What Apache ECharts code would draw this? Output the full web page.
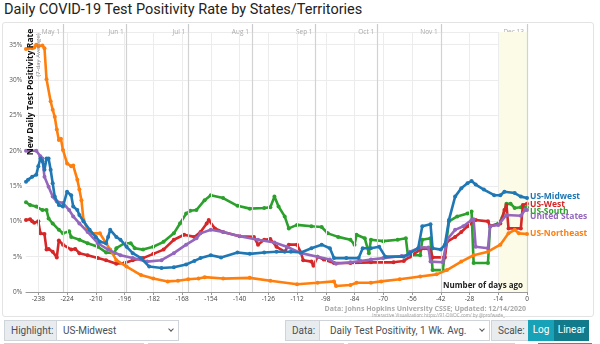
<!DOCTYPE html>
<html><head><meta charset="utf-8">
<script src="https://cdn.jsdelivr.net/npm/echarts@6/dist/echarts.min.js"></script>
<style>
html,body{margin:0;padding:0;background:#fff;width:600px;height:344px;overflow:hidden;font-family:Roboto,sans-serif;}
#title{position:absolute;left:4px;top:1px;font-size:14.5px;color:#222;white-space:nowrap;}
#frame{position:absolute;left:2px;top:22px;width:592px;height:295px;border:1px solid #e3e3e3;border-radius:3px;box-sizing:border-box;}
#chart{position:absolute;left:0;top:0;width:600px;height:320px;}
.box{position:absolute;top:320px;height:21px;box-sizing:border-box;border:1px solid #ced4da;font-size:10px;line-height:19px;color:#495057;white-space:nowrap;}
.lab{background:#e9ecef;padding-left:6px;}
.sel{background:#fff;padding-left:6px;}
.chev{position:absolute;top:6px;width:3px;height:3px;border-right:1.2px solid #555;border-bottom:1.2px solid #555;transform:rotate(45deg);}
.btn{color:#fff;text-align:center;border:none;}
.row2{position:absolute;top:343px;height:10px;border:1px solid #ced4da;box-sizing:border-box;}
</style>
</head><body>
<div id="title">Daily COVID-19 Test Positivity Rate by States/Territories</div>
<div id="frame"></div>
<div id="chart"></div>
<div class="box lab" style="left:4px;width:53px;">Highlight:</div>
<div class="box sel" style="left:56px;width:123px;">US-Midwest<span class="chev" style="left:112px;"></span></div>
<div class="box lab" style="left:285px;width:35px;">Data:</div>
<div class="box sel" style="left:319px;width:171px;padding-left:10px;">Daily Test Positivity, 1 Wk. Avg.<span class="chev" style="left:160px;"></span></div>
<div class="box lab" style="left:491px;width:38px;">Scale:</div>
<div class="box btn" style="left:528px;width:26px;background:#17a2b8;">Log</div>
<div class="box btn" style="left:554px;width:35px;background:#117a8b;">Linear</div>
<div class="row2" style="left:4px;width:140px;"></div>
<div class="row2" style="left:148px;width:196px;"></div>
<div class="row2" style="left:348px;width:167px;"></div>
<div class="row2" style="left:538px;width:54px;background:#17a2b8;border-color:#17a2b8;"></div>
<script>
// ---- data ----
const tickDays = [-238,-224,-210,-196,-182,-168,-154,-140,-126,-112,-98,-84,-70,-56,-42,-28,-14,0];
const monthDays = [-226,-195,-165,-134,-103,-73,-42,0];
const monthLabels = ['May 1','Jun 1','Jul 1','Aug 1','Sep 1','Oct 1','Nov 1','Dec 13'];
const seriesNames = ['US-Midwest','US-West','US-South','United States','US-Northeast'];

const midwest = [[-244,15.6],[-243,15.9],[-241,16.3],[-239,16.6],[-238,17.8],[-237,18.9],[-236,18.5],[-235,17.3],[-234,18.9],[-233,18.9],[-232,17.3],[-231,15.4],[-230,13.5],[-228,12.3],[-226,12.1],[-224,14.2],[-222,13.7],[-221,12.1],[-219,11.6],[-218,10.9],[-216,10.0],[-213,8.8],[-210,7.8],[-208,7.1],[-205,6.9],[-204,7.8],[-203,8.8],[-200,7.8],[-198,7.4],[-195,6.4],[-192,5.5],[-188,4.8],[-184,3.6],[-178,3.4],[-172,3.5],[-166,3.9],[-162,4.4],[-159,4.8],[-154,5.2],[-149,4.9],[-141,5.6],[-135,5.4],[-128,5.6],[-122,5.7],[-115,5.7],[-110,5.6],[-105,6.2],[-100,6.7],[-96,6.2],[-94,4.8],[-88,4.8],[-82,4.8],[-80,6.2],[-76,6.2],[-72,6.4],[-69,5.0],[-60,5.0],[-57,5.5],[-53,6.2],[-51,9.3],[-47,9.6],[-46,6.2],[-42,6.0],[-40,6.7],[-38,10.2],[-35,13.5],[-32,14.7],[-29,15.4],[-27,15.7],[-25,15.2],[-21,14.5],[-16,13.7],[-13,13.7],[-11,14.2],[-6,14.0],[-3,13.5],[0,13.3]];

const west = [[-244,10.2],[-242,10.3],[-241,10.0],[-240,9.8],[-238,10.0],[-237,8.3],[-235,8.2],[-234,6.0],[-233,6.1],[-231,5.7],[-229,4.9],[-228,7.3],[-226,6.7],[-222,6.0],[-220,6.1],[-218,5.5],[-214,5.2],[-209,4.8],[-205,4.5],[-200,4.0],[-196,4.1],[-192,4.5],[-187,4.8],[-182,5.4],[-177,6.0],[-172,7.4],[-167,8.1],[-162,7.8],[-159,8.5],[-156,9.7],[-155,10.2],[-152,9.0],[-148,8.5],[-140,7.9],[-133,7.8],[-131,6.7],[-128,7.4],[-125,7.5],[-122,6.4],[-118,5.7],[-116,6.7],[-112,6.7],[-110,5.5],[-109,4.5],[-105,4.3],[-104,3.7],[-102,5.0],[-99,4.6],[-94,4.1],[-86,4.1],[-76,4.2],[-65,4.2],[-60,4.4],[-57,5.0],[-52,6.0],[-50,6.2],[-47,6.0],[-46,4.9],[-40,4.9],[-39,7.1],[-35,7.8],[-32,8.5],[-29,9.3],[-25,10.2],[-19,10.0],[-18,9.3],[-13,9.7],[-11,11.6],[-10,12.3],[-9,9.0],[-3,9.0],[-2,12.3],[0,12.5]];

const south = [[-244,12.7],[-242,12.3],[-239,12.1],[-236,11.6],[-234,11.6],[-233,10.4],[-231,9.7],[-228,8.8],[-226,8.3],[-223,8.6],[-222,7.8],[-218,7.4],[-214,6.9],[-209,6.4],[-205,5.6],[-201,5.5],[-200,6.2],[-196,6.9],[-193,6.9],[-191,6.2],[-187,6.0],[-182,6.4],[-177,7.1],[-172,8.3],[-169,9.7],[-166,11.1],[-164,11.5],[-161,11.6],[-157,13.0],[-154,13.7],[-148,13.3],[-141,12.2],[-135,11.8],[-128,11.9],[-125,12.0],[-123,13.5],[-121,12.1],[-118,10.7],[-116,9.0],[-112,9.5],[-105,9.3],[-100,9.2],[-97,8.3],[-92,7.8],[-86,7.4],[-84,6.7],[-83,8.1],[-79,7.6],[-77,5.5],[-76,7.4],[-70,7.2],[-63,7.4],[-59,7.6],[-58,5.2],[-52,5.2],[-51,7.4],[-47,7.6],[-46,3.1],[-41,3.1],[-38,10.0],[-34,10.7],[-29,11.1],[-27,11.4],[-26,4.1],[-19,4.1],[-18,9.3],[-14,9.7],[-12,10.5],[-10,12.5],[-8,12.5],[-6,11.9],[-3,12.0],[0,12.0]];

const unitedStates = [[-244,20.0],[-239,20.0],[-237,19.2],[-236,18.9],[-235,16.3],[-233,14.9],[-231,13.5],[-229,12.8],[-226,12.6],[-223,11.6],[-221,10.7],[-218,9.7],[-214,8.5],[-209,6.9],[-204,6.0],[-198,5.2],[-192,4.8],[-185,4.3],[-178,4.5],[-172,5.5],[-166,6.7],[-161,7.6],[-159,8.3],[-154,8.8],[-148,8.5],[-140,7.9],[-131,7.4],[-123,7.0],[-117,6.4],[-110,5.5],[-102,5.0],[-96,4.6],[-93,4.0],[-86,4.2],[-81,4.4],[-76,4.6],[-70,4.8],[-61,5.1],[-58,5.2],[-57,5.7],[-52,6.3],[-48,6.3],[-47,4.3],[-41,4.2],[-39,7.4],[-35,8.8],[-31,9.3],[-27,10.2],[-26,10.3],[-25,6.4],[-19,6.2],[-18,9.3],[-14,9.5],[-10,10.9],[-3,10.8],[-1,11.6],[0,11.6]];

const northeast = [[-244,34.4],[-241,34.5],[-240,34.6],[-239,35.0],[-238,34.8],[-236,34.9],[-235,34.5],[-234,30.1],[-232,27.0],[-231,25.8],[-230,24.8],[-229,23.0],[-228,21.5],[-227,21.7],[-226,20.1],[-224,18.2],[-222,17.8],[-221,17.9],[-219,15.9],[-218,14.5],[-217,13.0],[-216,10.2],[-214,8.8],[-212,8.3],[-208,8.3],[-205,6.9],[-203,6.0],[-200,4.5],[-195,3.6],[-188,2.4],[-182,1.9],[-175,1.5],[-170,1.6],[-165,1.8],[-160,1.9],[-157,2.1],[-148,1.9],[-135,2.0],[-125,1.6],[-112,1.1],[-102,1.3],[-94,1.5],[-93,0.85],[-86,1.0],[-83,1.3],[-76,1.3],[-71,1.5],[-62,1.8],[-52,2.2],[-44,2.5],[-39,3.1],[-32,4.3],[-26,5.2],[-19,5.7],[-13,6.7],[-9,8.3],[-6,8.8],[-4,8.3],[0,8.2]];

// ---- chart ----
const chart = echarts.init(document.getElementById('chart'), null, {renderer:'canvas'});
const FONT = 'Open Sans';
function mk(name, data, color, z, off){
  return {
    name, type:'line', data, z, symbol:'circle', symbolSize:4, showSymbol:true,
    lineStyle:{width:2.6,color}, itemStyle:{color},
    endLabel:{show:true, formatter:name, color, fontWeight:'bold', fontSize:8.5, fontFamily:FONT, distance:3, offset:off},
    emphasis:{disabled:true}, animation:false
  };
}
const option = {
  animation:false,
  grid:{left:26, right:73, top:32, bottom:28},
  xAxis:[{
    type:'value', min:-244, max:0,
    axisLine:{show:true, lineStyle:{color:'#999'}},
    axisTick:{show:true, customValues:tickDays, length:3, lineStyle:{color:'#999'}},
    axisLabel:{customValues:tickDays, fontSize:6.5, color:'#444', fontFamily:FONT, margin:4},
    splitLine:{show:false}
  },{
    type:'value', min:-244, max:0, position:'top',
    axisLine:{show:false},
    axisTick:{show:true, customValues:monthDays, length:8, lineStyle:{color:'#ccc', width:1.2}},
    axisLabel:{customValues:monthDays, formatter:v=>monthLabels[monthDays.indexOf(v)], align:'right', padding:[0,3,0,0], fontSize:6.5, color:'#aaa', fontFamily:FONT, margin:-4},
    splitLine:{show:false}
  }],
  yAxis:{
    type:'value', min:0, max:36.8, interval:5,
    axisLine:{show:true, lineStyle:{color:'#999'}},
    axisTick:{show:true, length:3, lineStyle:{color:'#999'}},
    axisLabel:{formatter:'{value}%', fontSize:6.5, color:'#555', fontFamily:FONT, showMaxLabel:false, margin:4},
    splitLine:{show:true, lineStyle:{color:'#ececec'}}
  },
  graphic:[
    {type:'text', x:31, y:92, rotation:Math.PI/2, style:{text:'New Daily Test Positivity Rate', font:'bold 8.5px "Open Sans"', fill:'#111', align:'center', verticalAlign:'middle'}, z:100},
    {type:'text', x:38, y:55, rotation:Math.PI/2, style:{text:'(7-day Average)', font:'6px "Open Sans"', fill:'#888', align:'center', verticalAlign:'middle'}, z:100},
    {type:'text', x:523, y:286, style:{text:'Number of days ago', font:'bold 8px "Open Sans"', fill:'#222', align:'right', verticalAlign:'middle'}, z:100},
    {type:'text', x:526, y:309, style:{text:'Data: Johns Hopkins University CSSE; Updated: 12/14/2020', font:'bold 7px "Open Sans"', fill:'#aaa', align:'right', verticalAlign:'middle'}, z:100},
    {type:'text', x:505, y:315.5, style:{text:'Interactive Visualization: https://91-DIVOC.com/ by @profwade_', font:'4.5px "Open Sans"', fill:'#999', align:'right', verticalAlign:'middle'}, z:100}
  ],
  series:[
    {type:'line', data:[], z:1, silent:true, animation:false,
      markArea:{silent:true, itemStyle:{color:'#fbfbe8'}, data:[[{xAxis:-14},{xAxis:0}]]},
      markLine:{silent:true, symbol:'none', label:{show:false}, animation:false,
        data: tickDays.map(d=>({xAxis:d, lineStyle:{color:'#ececec', width:1, type:'solid'}}))
          .concat(monthDays.map(d=>({xAxis:d, lineStyle:{color:'#d2d2d2', width:1.2, type:'solid'}})))}
    },
    mk(seriesNames[2], south, '#2ca02c', 3, [0,4]),
    mk(seriesNames[1], west, '#d62728', 4, [0,1]),
    mk(seriesNames[4], northeast, '#ff7f0e', 5, [0,0]),
    mk(seriesNames[3], unitedStates, '#9467bd', 6, [0,7]),
    mk(seriesNames[0], midwest, '#1f77b4', 7, [0,-1])
  ]
};
chart.setOption(option);
</script>
</body></html>
